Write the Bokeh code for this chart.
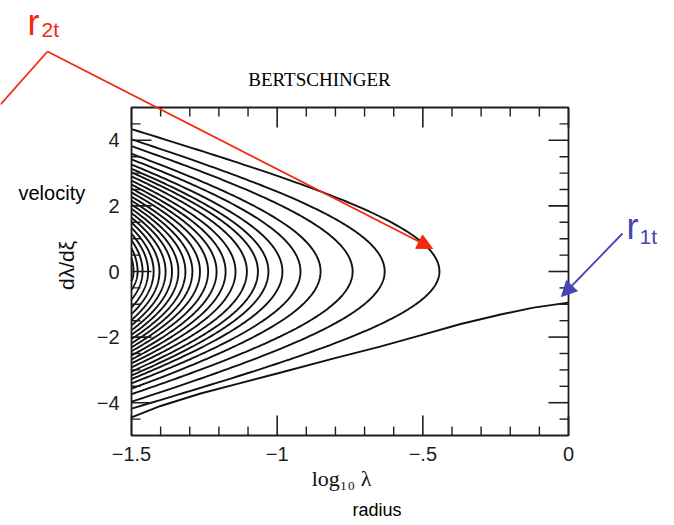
import numpy as np
from bokeh.plotting import figure
from bokeh.models import Range1d, Arrow, NormalHead
from bokeh.core.properties import value
from bokeh.embed import file_html
from bokeh.resources import INLINE

# ---- data ----
# turning points (apocentres) of the successive orbits, log10 lambda
APEX_X = [-0.443, -0.631, -0.741, -0.851, -0.920, -0.982, -1.030, -1.066, -1.104,
          -1.143, -1.177, -1.208, -1.237, -1.265, -1.291, -1.315, -1.339, -1.361,
          -1.383, -1.404, -1.424, -1.443, -1.462, -1.479, -1.493]
# velocity where each orbit leaves (upper) / re-enters (lower) the left edge
UPPER_Y = [4.34, 4.03, 3.82, 3.59, 3.42, 3.26, 3.13, 3.02, 2.90, 2.77, 2.65, 2.53,
           2.41, 2.28, 2.16, 2.04, 1.91, 1.78, 1.64, 1.49, 1.33, 1.15, 0.95, 0.71, 0.41]
LOWER_Y = [-4.18, -3.97, -3.74, -3.57, -3.41, -3.28, -3.17, -3.05, -2.92, -2.80,
           -2.68, -2.56, -2.43, -2.31, -2.19, -2.06, -1.93, -1.79, -1.64, -1.48,
           -1.30, -1.10, -0.86, -0.56, -0.30]
# first infall from the turnaround radius
INFALL_X = [0.0, -0.12, -0.233, -0.37, -0.502, -0.65, -0.805, -1.0, -1.13, -1.263, -1.4, -1.5]
INFALL_Y = [-0.95, -1.10, -1.31, -1.60, -1.93, -2.30, -2.65, -3.11, -3.41, -3.72, -4.10, -4.45]

X_MAJOR = [-1.5, -1.0, -0.5, 0.0]
X_TICK_LABELS = ["\u22121.5", "\u22121", "\u2212.5", "0"]
X_MINOR = [-1.4, -1.3, -1.2, -1.1, -0.9, -0.8, -0.7, -0.6, -0.4, -0.3, -0.2, -0.1]
Y_MAJOR = [-4, -2, 0, 2, 4]
Y_TICK_LABELS = ["\u22124", "\u22122", "0", "2", "4"]
Y_MINOR = [-4.5, -3.5, -3, -2.5, -1.5, -1, -0.5, 0.5, 1, 1.5, 2.5, 3, 3.5, 4.5]

TITLE = "BERTSCHINGER"
XLAB = "log\u2081\u2080 \u03bb"
YLAB = "d\u03bb/d\u03be"

X0, X1 = -1.5, 0.0
Y0, Y1 = -5.0, 5.0
W, H = 674, 525
L, R, T, B = 131, 106, 107, 90           # position of the plot box in the page
FW, FH = W - L - R, H - T - B
PXX = (X1 - X0) / FW                     # data units per pixel
PXY = (Y1 - Y0) / FH

def dx(px):
    return X0 + (px - L) * PXX

def dy(py):
    return Y1 - (py - T) * PXY

def branch(xa, yedge, n=90):
    u = np.linspace(0, 1, n)
    xs = xa - (xa - X0) * u ** 2
    s = (10 ** (-xs / 4) - 10 ** (-xa / 4)) / (10 ** (-X0 / 4) - 10 ** (-xa / 4))
    return xs, yedge * np.sqrt(np.clip(s, 0, None))

arc_xs, arc_ys = [], []
for xa, yu, yl in zip(APEX_X, UPPER_Y, LOWER_Y):
    xu, vu = branch(xa, yu)
    xl, vl = branch(xa, yl)
    arc_xs.append(np.concatenate([xu[::-1], xl[1:]]).tolist())
    arc_ys.append(np.concatenate([vu[::-1], vl[1:]]).tolist())

p = figure(width=W, height=H,
           x_range=Range1d(dx(0), dx(W)), y_range=Range1d(dy(H), dy(0)),
           output_backend="svg", toolbar_location=None,
           x_axis_type=None, y_axis_type=None,
           min_border_left=0, min_border_right=0, min_border_top=0, min_border_bottom=0)
p.outline_line_color = None
p.background_fill_color = "white"
p.border_fill_color = "white"
p.xgrid.visible = False
p.ygrid.visible = False

INK = "#111111"
AX = "#1e1e1e"
p.multi_line(arc_xs, arc_ys, line_color=INK, line_width=1.9)
p.line(INFALL_X, INFALL_Y, line_color=INK, line_width=1.9)

# plot box and inward ticks on all four sides
p.quad(left=[X0], right=[X1], bottom=[Y0], top=[Y1], fill_color=None,
       line_color=AX, line_width=1.8)
MAJ, MIN = 20, 9
for ticks, ln, lw in ((X_MAJOR, MAJ, 1.6), (X_MINOR, MIN, 1.4)):
    n = len(ticks)
    p.segment(x0=ticks, y0=[Y0] * n, x1=ticks, y1=[Y0 + ln * PXY] * n, line_color=AX, line_width=lw)
    p.segment(x0=ticks, y0=[Y1] * n, x1=ticks, y1=[Y1 - ln * PXY] * n, line_color=AX, line_width=lw)
for ticks, ln, lw in ((Y_MAJOR, MAJ, 1.6), (Y_MINOR, MIN, 1.4)):
    n = len(ticks)
    p.segment(x0=[X0] * n, y0=ticks, x1=[X0 + ln * PXX] * n, y1=ticks, line_color=AX, line_width=lw)
    p.segment(x0=[X1] * n, y0=ticks, x1=[X1 - ln * PXX] * n, y1=ticks, line_color=AX, line_width=lw)

p.text(x=X_MAJOR, y=[Y0 - 11 * PXY] * len(X_MAJOR), text=X_TICK_LABELS,
       text_font=value("Liberation Sans"), text_font_size=value("20px"),
       text_color=AX, text_align="center", text_baseline="top")
p.text(x=[X0 - 12 * PXX] * len(Y_MAJOR), y=Y_MAJOR, text=Y_TICK_LABELS,
       text_font=value("Liberation Sans"), text_font_size=value("20px"),
       text_color=AX, text_align="right", text_baseline="middle")

def lab(px, py, text, font, size, color="#111111", align="left", baseline="alphabetic", angle=0.0):
    p.text(x=[dx(px)], y=[dy(py)], text=[text], text_font=value(font), text_font_size=value(size),
           text_color=color, text_align=align, text_baseline=baseline, angle=angle)

lab(319, 79, TITLE, "Liberation Serif", "19px", color="#000000", align="center")
lab(341, 478, XLAB, "Liberation Serif", "22px", align="center")
lab(66, 265, YLAB, "Liberation Sans", "21px", align="center", baseline="middle", angle=np.pi / 2)
lab(18, 192, "velocity", "Liberation Sans", "20px", color="#000000")
lab(352, 509, "radius", "Liberation Sans", "18px", color="#000000")

RED = "#f3280c"
BLUE = "#4545b5"
lab(27, 22, "r", "Liberation Sans", "36px", color=RED)
lab(41, 29, "2t", "Liberation Sans", "21px", color=RED)
lab(626, 226, "r", "Liberation Sans", "36px", color=BLUE)
lab(639, 236, "1t", "Liberation Sans", "21px", color=BLUE)

p.add_layout(Arrow(end=None, x_start=dx(47), y_start=dy(51), x_end=dx(0), y_end=dy(104),
                   line_color=RED, line_width=1.8))
p.add_layout(Arrow(end=NormalHead(size=15, fill_color=RED, line_color=RED),
                   x_start=dx(47), y_start=dy(51), x_end=dx(432), y_end=dy(248),
                   line_color=RED, line_width=1.8))
p.add_layout(Arrow(end=NormalHead(size=15, fill_color=BLUE, line_color=BLUE),
                   x_start=dx(622), y_start=dy(233), x_end=dx(561), y_end=dy(296),
                   line_color=BLUE, line_width=1.8))

open("out.html", "w").write(file_html(p, INLINE))
